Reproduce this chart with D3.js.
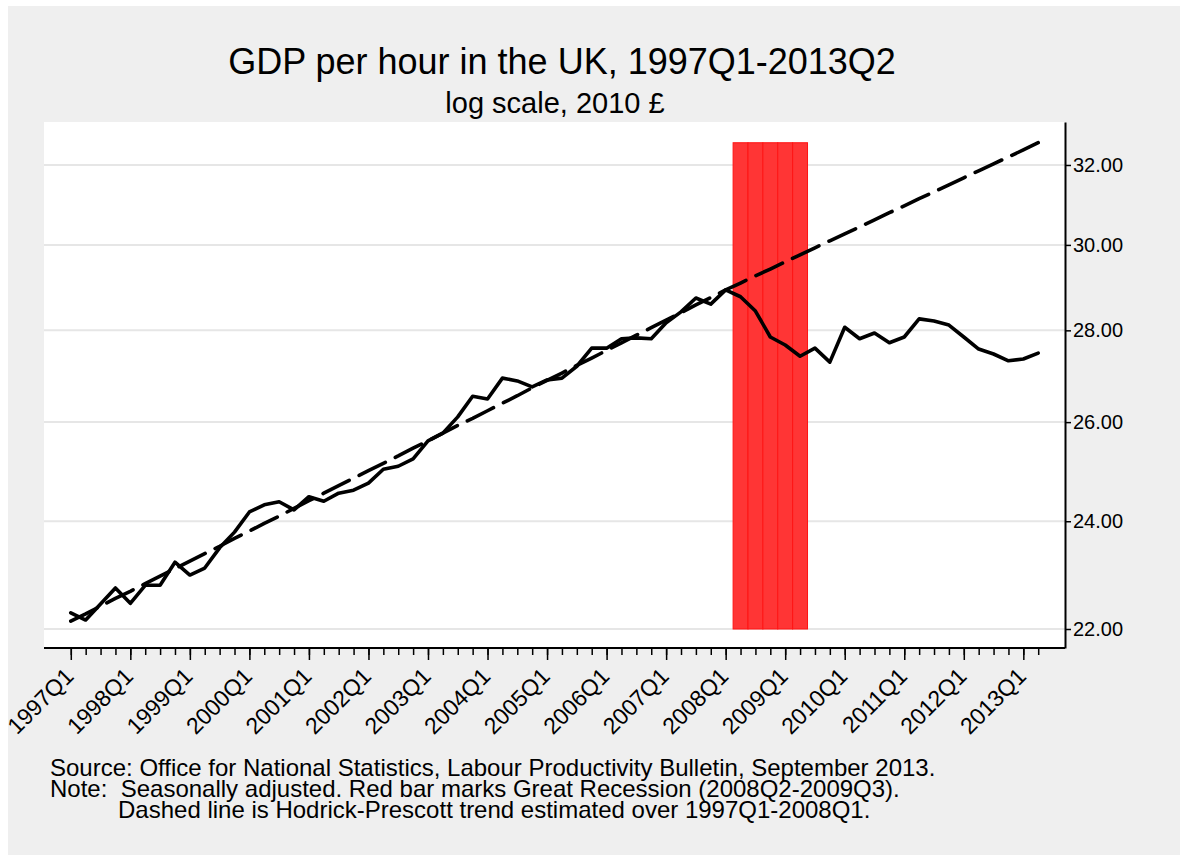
<!DOCTYPE html>
<html><head><meta charset="utf-8">
<script src="https://cdn.jsdelivr.net/npm/d3@7"></script>
<style>
body{margin:0;background:#ffffff;}
svg{display:block;font-family:"Liberation Sans",Arial,Helvetica,sans-serif;}
</style>
</head><body>
<svg id="chart" width="1187" height="859"></svg>
<script>
// ---------------- data ----------------
const quarters = [
 "1997Q1","1997Q2","1997Q3","1997Q4","1998Q1","1998Q2","1998Q3","1998Q4",
 "1999Q1","1999Q2","1999Q3","1999Q4","2000Q1","2000Q2","2000Q3","2000Q4",
 "2001Q1","2001Q2","2001Q3","2001Q4","2002Q1","2002Q2","2002Q3","2002Q4",
 "2003Q1","2003Q2","2003Q3","2003Q4","2004Q1","2004Q2","2004Q3","2004Q4",
 "2005Q1","2005Q2","2005Q3","2005Q4","2006Q1","2006Q2","2006Q3","2006Q4",
 "2007Q1","2007Q2","2007Q3","2007Q4","2008Q1","2008Q2","2008Q3","2008Q4",
 "2009Q1","2009Q2","2009Q3","2009Q4","2010Q1","2010Q2","2010Q3","2010Q4",
 "2011Q1","2011Q2","2011Q3","2011Q4","2012Q1","2012Q2","2012Q3","2012Q4",
 "2013Q1","2013Q2"
];
// GDP per hour, 2010 £
const gdpPerHour = [
 22.29,22.16,22.45,22.74, 22.46,22.79,22.79,23.22,
 22.98,23.11,23.49,23.79, 24.18,24.32,24.38,24.22,
 24.48,24.39,24.55,24.61, 24.75,25.03,25.09,25.24,
 25.61,25.77,26.11,26.55, 26.49,26.94,26.88,26.75,
 26.90,26.94,27.20,27.60, 27.60,27.81,27.83,27.81,
 28.17,28.42,28.74,28.60, 28.93,28.77,28.44,27.85,
 27.67,27.42,27.60,27.29, 28.07,27.81,27.94,27.72,
 27.85,28.26,28.21,28.12, 27.85,27.58,27.47,27.32,
 27.36,27.49
];
// Hodrick-Prescott trend (dashed)
const hpTrend = [
 22.14,22.27,22.41,22.55, 22.68,22.82,22.96,23.10,
 23.24,23.38,23.52,23.67, 23.81,23.96,24.10,24.25,
 24.40,24.55,24.70,24.85, 25.00,25.15,25.30,25.46,
 25.61,25.77,25.93,26.08, 26.24,26.40,26.56,26.73,
 26.89,27.05,27.22,27.38, 27.55,27.72,27.89,28.06,
 28.23,28.40,28.58,28.75, 28.93,29.09,29.26,29.42,
 29.59,29.76,29.93,30.10, 30.27,30.44,30.61,30.79,
 30.96,31.14,31.31,31.49, 31.67,31.85,32.03,32.21,
 32.39,32.58
];
const yTicks = [22, 24, 26, 28, 30, 32];
const xTickLabels = ["1997Q1","1998Q1","1999Q1","2000Q1","2001Q1","2002Q1","2003Q1","2004Q1",
 "2005Q1","2006Q1","2007Q1","2008Q1","2009Q1","2010Q1","2011Q1","2012Q1","2013Q1"];
const recessionQuarters = ["2008Q2","2008Q3","2008Q4","2009Q1","2009Q2"];
const recessionTop = 32.58;
const recessionBase = 22;

const titleText = "GDP per hour in the UK, 1997Q1-2013Q2";
const subtitleText = "log scale, 2010 £";
const noteLines = [
 "Source: Office for National Statistics, Labour Productivity Bulletin, September 2013.",
 "Note:  Seasonally adjusted. Red bar marks Great Recession (2008Q2-2009Q3).",
 "Dashed line is Hodrick-Prescott trend estimated over 1997Q1-2008Q1."
];

// ---------------- layout ----------------
const svg = d3.select("#chart");
const P = {left:44, right:1065, top:122, bottom:648};

svg.append("rect").attr("x",8).attr("y",6).attr("width",1172).attr("height",849).attr("fill","#efefef");
svg.append("rect").attr("x",P.left).attr("y",P.top).attr("width",P.right-P.left).attr("height",P.bottom-P.top).attr("fill","#ffffff");

const idx = q => quarters.indexOf(q);
const x = d3.scaleLinear().domain([-1.8, 66.8]).range([P.left, P.right]);
const y = d3.scaleLog().domain([21.665, 33.13]).range([P.bottom, P.top]);

// gridlines
svg.append("g").selectAll("line").data(yTicks).join("line")
  .attr("x1",P.left).attr("x2",P.right)
  .attr("y1",d=>y(d)).attr("y2",d=>y(d))
  .attr("stroke","#e6e6e6").attr("stroke-width",2);

// recession bars
svg.append("g").selectAll("rect").data(recessionQuarters).join("rect")
  .attr("x",d=>x(idx(d)-0.5)).attr("width",d=>x(idx(d)+0.5)-x(idx(d)-0.5))
  .attr("y",y(recessionTop)).attr("height",y(recessionBase)-y(recessionTop))
  .attr("fill","#ff3535").attr("stroke","#ff1414").attr("stroke-width",1);

// lines
const line = d3.line().x((d,i)=>x(i)).y(d=>y(d));
const trendPath = svg.append("path").datum(hpTrend).attr("d",line)
  .attr("fill","none").attr("stroke","#000").attr("stroke-width",3.6)
  .attr("stroke-linecap","round").attr("stroke-linejoin","round");
// fit the long-dash pattern so that the line starts and ends on a dash
{
  const len = trendPath.node().getTotalLength();
  const d0 = 29, g0 = 11;
  const n = Math.max(1, Math.round((len + g0) / (d0 + g0)));
  const k = (len + g0) / (n * (d0 + g0));
  trendPath.attr("stroke-dasharray", `${(d0*k).toFixed(2)},${(g0*k).toFixed(2)}`);
}
svg.append("path").datum(gdpPerHour).attr("d",line)
  .attr("fill","none").attr("stroke","#000").attr("stroke-width",3.6)
  .attr("stroke-linejoin","round").attr("stroke-linecap","round");

// right axis
const yAxis = d3.axisRight(y).tickValues(yTicks).tickFormat(d3.format(".2f")).tickSize(6).tickSizeOuter(0).tickPadding(2);
const gy = svg.append("g").attr("transform",`translate(${P.right},0)`).call(yAxis);
gy.select(".domain").attr("stroke","#000").attr("stroke-width",2);
gy.selectAll(".tick line").attr("stroke","#000").attr("stroke-width",1.5);
gy.selectAll(".tick text").attr("font-size",20).attr("fill","#000")
  .attr("font-family","Liberation Sans, Arial, sans-serif");

// bottom axis: minor ticks every quarter
const xMinor = d3.axisBottom(x).tickValues(quarters.map(idx)).tickSize(7).tickSizeOuter(0).tickFormat("");
const gxm = svg.append("g").attr("transform",`translate(0,${P.bottom})`).call(xMinor);
gxm.select(".domain").remove();
gxm.selectAll(".tick line").attr("stroke","#000").attr("stroke-width",1.5);

// bottom axis: major ticks with labels
const xMajor = d3.axisBottom(x).tickValues(xTickLabels.map(idx)).tickSize(12).tickSizeOuter(0)
  .tickFormat(i=>quarters[i]);
const gx = svg.append("g").attr("transform",`translate(0,${P.bottom})`).call(xMajor);
gx.selectAll(".tick line").attr("stroke","#000").attr("stroke-width",1.5);
gx.select(".domain").remove();
gx.selectAll(".tick text")
  .attr("font-size",23).attr("fill","#000").attr("font-family","Liberation Sans, Arial, sans-serif")
  .attr("text-anchor","end").attr("y",0).attr("dy","0.35em")
  .attr("transform","translate(-2,24) rotate(-45)");
svg.append("line").attr("x1",P.left).attr("x2",P.right).attr("y1",P.bottom).attr("y2",P.bottom)
  .attr("stroke","#000").attr("stroke-width",2);

// titles
svg.append("text").attr("x",562).attr("y",74).attr("text-anchor","middle")
  .attr("font-size",36).attr("fill","#000").text(titleText);
svg.append("text").attr("x",555).attr("y",113).attr("text-anchor","middle")
  .attr("font-size",29).attr("fill","#000").text(subtitleText);

// notes
const noteX = [50, 50, 118];
svg.append("g").selectAll("text").data(noteLines).join("text")
  .attr("x",(d,i)=>noteX[i]).attr("y",(d,i)=>776+i*21)
  .attr("font-size",24).attr("fill","#000")
  .style("white-space","pre").text(d=>d);
</script>
</body></html>
